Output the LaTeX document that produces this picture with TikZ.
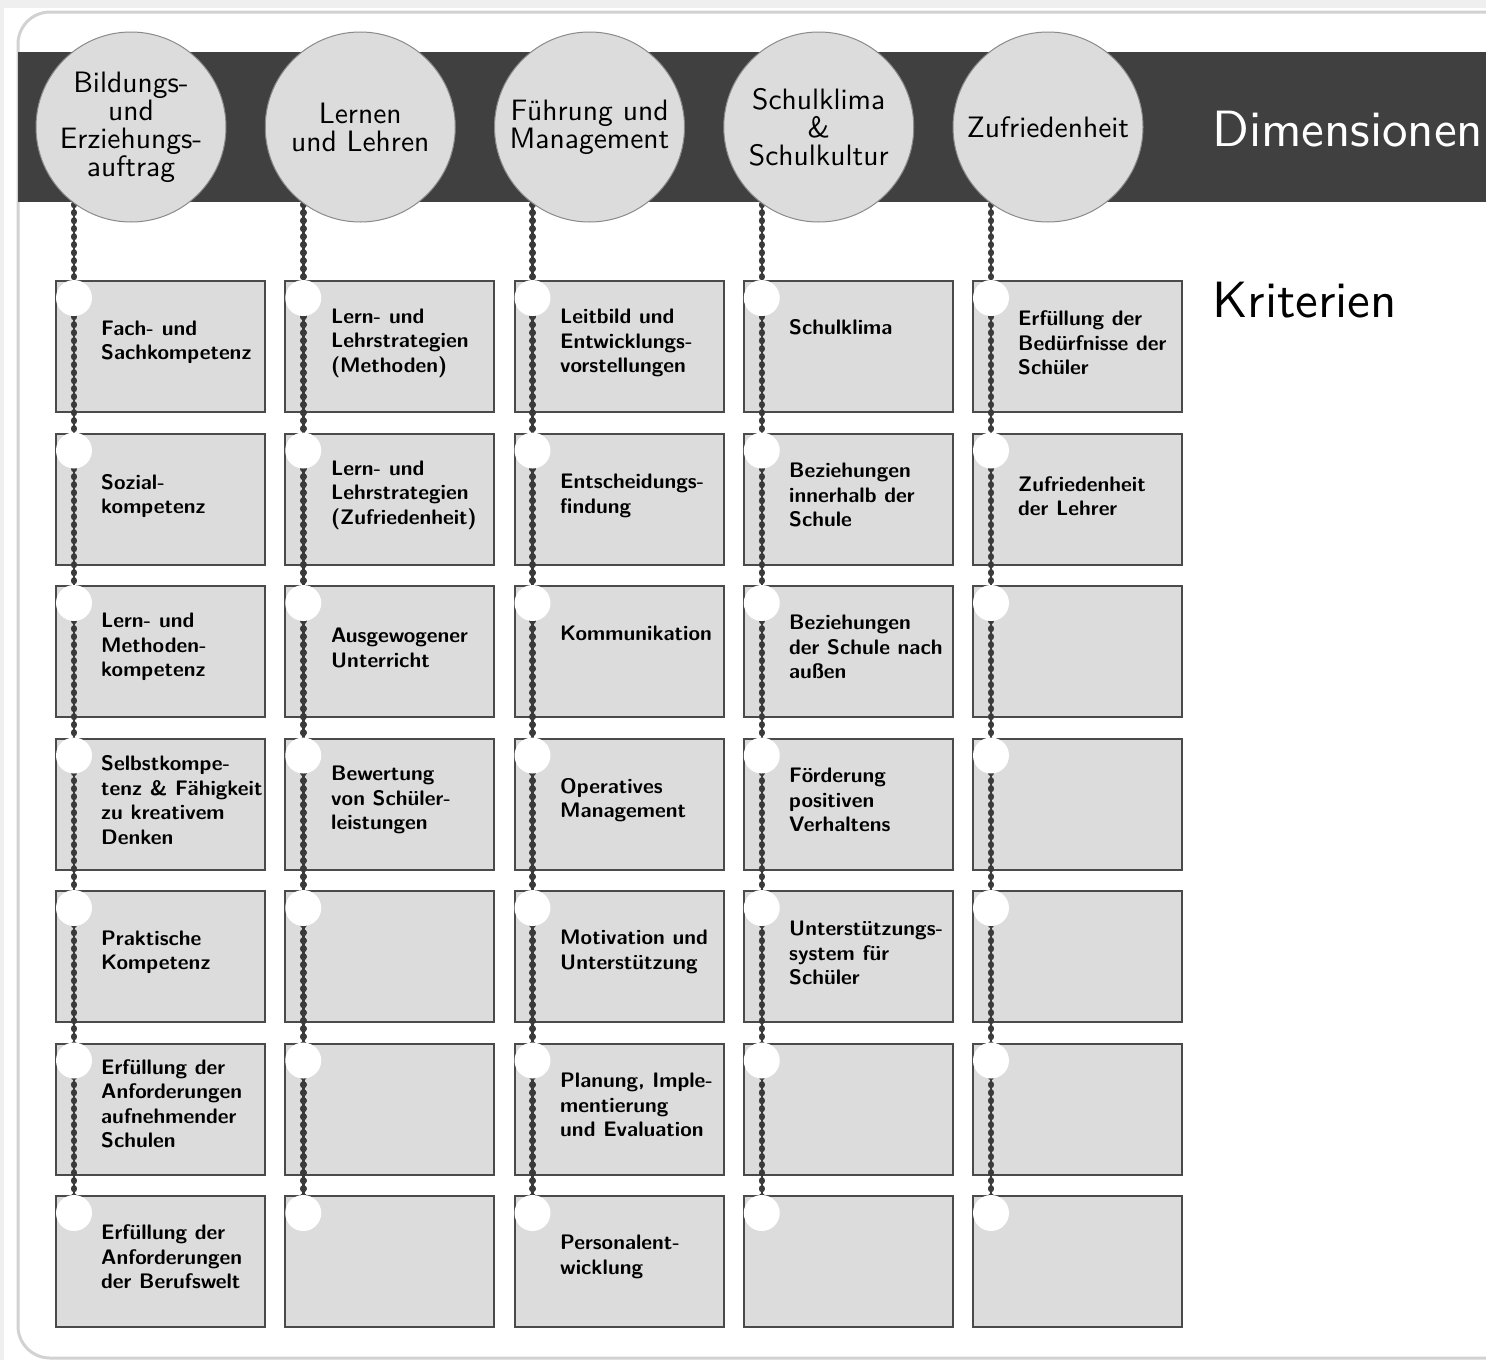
\documentclass[tikz,border=0pt]{standalone}
\usepackage{fontspec}
\newfontfamily\lmsx{lmsans10-regular.otf}
\newfontfamily\lmsxb{lmsans10-bold.otf}
\definecolor{pagegray}{HTML}{EFEFEF}
\definecolor{framegray}{HTML}{D2D2D2}
\definecolor{bandgray}{HTML}{404040}
\definecolor{boxfill}{HTML}{DCDCDC}
\definecolor{boxline}{HTML}{4A4A4A}
\definecolor{circline}{HTML}{8A8A8A}
\definecolor{chaincol}{HTML}{3A3A3A}
\tikzset{
  bigc/.style={circle, fill=boxfill, draw=circline, line width=1, minimum size=190, inner sep=0, align=center, font=\lmsx\fontsize{29.5}{28}\selectfont},
  critbox/.style={rectangle, fill=boxfill, draw=boxline, line width=2, minimum width=209, minimum height=131, inner sep=0, anchor=north west},
  knob/.style={circle, fill=white, minimum size=36, inner sep=0},
  crittext/.style={anchor=west, align=left, inner sep=0, font=\lmsxb\fontsize{21}{24.5}\selectfont},
  chain/.style={draw=chaincol, line width=2.5, postaction={draw=chaincol, line width=6.5, line cap=round, dash pattern=on 0.6 off 7.4}},
  heading/.style={anchor=west, inner sep=0, font=\lmsx\fontsize{51}{53}\selectfont}
}
\begin{document}
\begin{tikzpicture}[x=1pt,y=-1pt]
\useasboundingbox (0,0) rectangle (1486,1360);
\clip (0,0) rectangle (1486,1360);
\fill[pagegray] (0,0) rectangle (1486,1360);
\fill[white] (4,8) rectangle (1486,1360);
\draw[framegray, line width=3, rounded corners=32] (1530,12) -- (18,12) -- (18,1358) -- (1530,1358);
\fill[bandgray] (18,52) rectangle (1486,202);

% boxes and knob coordinates
\foreach \c in {1,...,5} {
  \foreach \r in {1,...,7} {
    \pgfmathsetmacro{\bx}{55+229.25*(\c-1)}
    \pgfmathsetmacro{\by}{280+152.5*(\r-1)}
    \node[critbox] (b-\c-\r) at (\bx,\by) {};
    \coordinate (p-\c-\r) at (\bx+19,\by+18);
  }
}
% big circle centres
\foreach \c in {1,...,5} {
  \pgfmathsetmacro{\cx}{131+229.25*(\c-1)}
  \coordinate (q-\c) at (\cx,127);
}
% chains
\foreach \c in {1,...,5} {
  \draw[chain] (p-\c-7) -- (p-\c-7 |- q-\c);
}
% dimension circles
\node[bigc] (d-1) at (q-1) {Bildungs-\\und\\Erziehungs-\\auftrag};
\node[bigc] (d-2) at (q-2) {Lernen\\und Lehren};
\node[bigc] (d-3) at (q-3) {Führung und\\Management};
\node[bigc] (d-4) at (q-4) {Schulklima\\\&\\Schulkultur};
\node[bigc] (d-5) at (q-5) {Zufriedenheit};
% knobs
\foreach \c in {1,...,5} {
  \foreach \r in {1,...,7} {
    \node[knob] (k-\c-\r) at (p-\c-\r) {};
  }
}
% headings
\node[heading, text=white] (dim) at (1212,129) {Dimensionen};
\node[heading] (krit) at (1212,300) {Kriterien};
% criteria texts
\node[crittext] (t-1-1) at (101,342) {Fach- und\\Sachkompetenz};
\node[crittext] (t-1-2) at (101,496) {Sozial-\\kompetenz};
\node[crittext] (t-1-3) at (101,647) {Lern- und\\Methoden-\\kompetenz};
\node[crittext] (t-1-4) at (101,800) {Selbstkompe-\\tenz \& Fähigkeit\\zu kreativem\\Denken};
\node[crittext] (t-1-5) at (101,952) {Praktische\\Kompetenz};
\node[crittext] (t-1-6) at (101,1104) {Erfüllung der\\Anforderungen\\aufnehmender\\Schulen};
\node[crittext] (t-1-7) at (101,1257) {Erfüllung der\\Anforderungen\\der Berufswelt};
\node[crittext] (t-2-1) at (331,343) {Lern- und\\Lehrstrategien\\(Methoden)};
\node[crittext] (t-2-2) at (331,495) {Lern- und\\Lehrstrategien\\(Zufriedenheit)};
\node[crittext] (t-2-3) at (331,648) {Ausgewogener\\Unterricht};
\node[crittext] (t-2-4) at (331,800) {Bewertung\\von Schüler-\\leistungen};
\node[crittext] (t-3-1) at (560,343) {Leitbild und\\Entwicklungs-\\vorstellungen};
\node[crittext] (t-3-2) at (560,496) {Entscheidungs-\\findung};
\node[crittext] (t-3-3) at (560,633) {Kommunikation};
\node[crittext] (t-3-4) at (560,800) {Operatives\\Management};
\node[crittext] (t-3-5) at (560,952) {Motivation und\\Unterstützung};
\node[crittext] (t-3-6) at (560,1105) {Planung, Imple-\\mentierung\\und Evaluation};
\node[crittext] (t-3-7) at (560,1257) {Personalent-\\wicklung};
\node[crittext] (t-4-1) at (789,327) {Schulklima};
\node[crittext] (t-4-2) at (789,495) {Beziehungen\\innerhalb der\\Schule};
\node[crittext] (t-4-3) at (789,647) {Beziehungen\\der Schule nach\\außen};
\node[crittext] (t-4-4) at (789,800) {Förderung\\positiven\\Verhaltens};
\node[crittext] (t-4-5) at (789,953) {Unterstützungs-\\system für\\Schüler};
\node[crittext] (t-5-1) at (1018,343) {Erfüllung der\\Bedürfnisse der\\Schüler};
\node[crittext] (t-5-2) at (1018,496) {Zufriedenheit\\der Lehrer};
\end{tikzpicture}
\end{document}
